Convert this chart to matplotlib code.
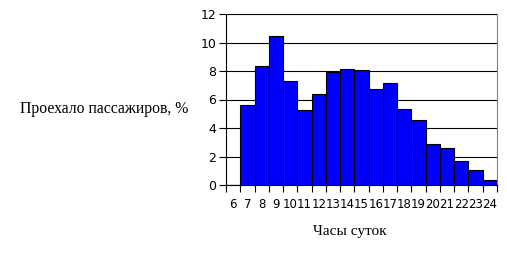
import matplotlib as mpl
import matplotlib.pyplot as plt
import numpy as np

hours = ["6", "7", "8", "9", "10", "11", "12", "13", "14", "15", "16", "17",
         "18", "19", "20", "21", "22", "23", "24"]
share = [0.0, 5.6, 8.33, 10.45, 7.3, 5.25, 6.36, 7.95, 8.12, 8.05, 6.71, 7.13,
         5.33, 4.54, 2.85, 2.58, 1.68, 1.05, 0.35]

mpl.rcParams.update({
    "font.family": "DejaVu Sans",
    "axes.linewidth": 0.8,
})

fig = plt.figure(figsize=(5.07, 2.60), dpi=100)
ax = fig.add_axes([226 / 507, 1 - 185 / 260, 271 / 507, 171 / 260])

x = np.arange(len(hours))
ax.bar(x, share, width=1.0, color="#0000ff", edgecolor="black", linewidth=0.8, zorder=3)

ax.set_xlim(-0.5, len(hours) - 0.5)
ax.set_ylim(0, 12)
ax.set_yticks(np.arange(0, 13, 2))
ax.yaxis.grid(True, color="black", linewidth=0.8, zorder=0)
ax.set_axisbelow(True)

# category labels centred, tick marks on the boundaries
ax.set_xticks(x)
ax.set_xticklabels(hours)
ax.set_xticks(np.arange(-0.5, len(hours), 1.0), minor=True)
ax.tick_params(axis="x", which="major", length=0, pad=9, labelsize=8.5)
ax.tick_params(axis="x", which="minor", length=5, width=0.8, direction="out")
ax.tick_params(axis="y", length=5, width=0.8, direction="out", labelsize=9, pad=2)

ax.spines["top"].set_visible(False)
ax.spines["right"].set_color("#808080")

fig.text(20 / 507, 1 - 109 / 260, "Проехало пассажиров, %", family="Liberation Serif",
         fontsize=11.3, ha="left", va="center")
fig.text(350 / 507, 1 - 231 / 260, "Часы суток", family="Liberation Serif",
         fontsize=11, ha="center", va="center")

fig.savefig("out.png", dpi=100)
